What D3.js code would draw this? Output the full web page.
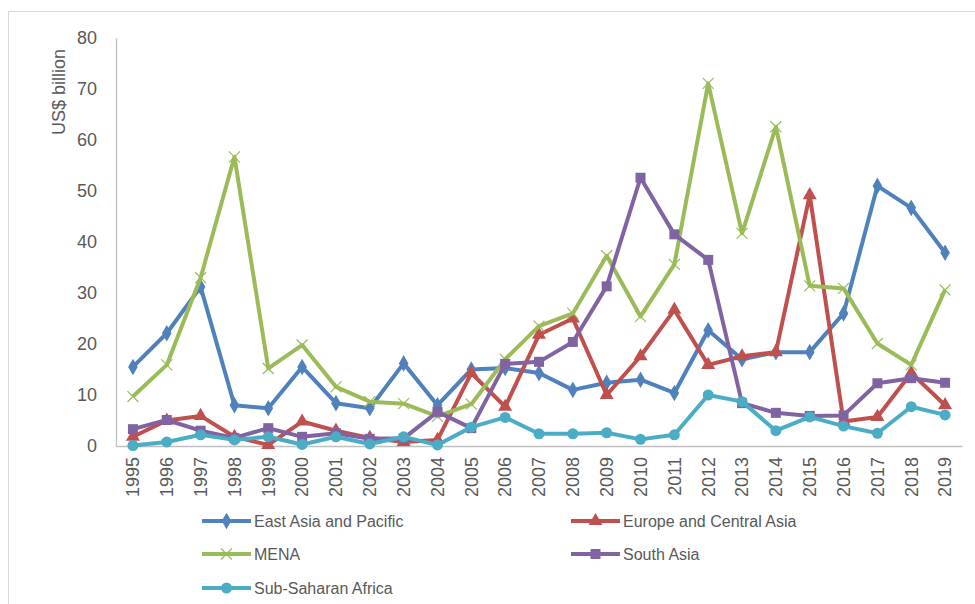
<!DOCTYPE html>
<html>
<head>
<meta charset="UTF-8">
<script src="https://cdnjs.cloudflare.com/ajax/libs/d3/7.8.5/d3.min.js"></script>
<style>
  body { margin: 0; background: #fff; }
  text { font-family: "Liberation Sans", Arial, sans-serif; fill: #595959; }
</style>
</head>
<body>
<div id="chart"></div>
<script>
var years = ["1995","1996","1997","1998","1999","2000","2001","2002","2003","2004","2005","2006",
             "2007","2008","2009","2010","2011","2012","2013","2014","2015","2016","2017","2018","2019"];
var yTicks = [0, 10, 20, 30, 40, 50, 60, 70, 80];

var eastAsia = [15.5, 22.1, 31.2, 8, 7.4, 15.5, 8.4, 7.4, 16.2, 8, 15, 15.3, 14.3, 11, 12.4, 13, 10.4, 22.7, 17, 18.4, 18.4, 26, 51, 46.7, 37.9];
var europe   = [1.8, 5, 5.9, 1.8, 0.2, 4.8, 3, 1.6, 0.8, 1.2, 14.3, 7.7, 21.8, 25, 10, 17.6, 26.7, 15.9, 17.6, 18.4, 49.2, 4.8, 5.7, 14.3, 8];
var mena     = [9.7, 15.9, 33, 56.7, 15.2, 19.8, 11.6, 8.7, 8.3, 5.8, 8.2, 17, 23.5, 26, 37.3, 25.4, 35.6, 71.1, 41.7, 62.6, 31.4, 30.9, 20.1, 15.9, 30.6];
var southAsia= [3.3, 5.1, 3, 1.6, 3.5, 1.8, 2.5, 1.4, 1.5, 6.7, 3.5, 16.1, 16.5, 20.4, 31.3, 52.6, 41.5, 36.5, 8.4, 6.5, 5.9, 6, 12.3, 13.3, 12.4];
var ssa      = [0.1, 0.8, 2.2, 1.2, 1.8, 0.3, 1.8, 0.4, 1.8, 0.2, 3.7, 5.6, 2.4, 2.4, 2.6, 1.3, 2.2, 10, 8.7, 3, 5.7, 3.9, 2.5, 7.7, 6.1];

var seriesNames = ["East Asia and Pacific", "Europe and Central Asia", "MENA", "South Asia", "Sub-Saharan Africa"];
var seriesValues = [eastAsia, europe, mena, southAsia, ssa];
var colors = ["#4f81bd", "#c0504d", "#9bbb59", "#8064a2", "#4bacc6"];
var markers = ["diamond", "triangle", "x", "square", "circle"];

var width = 975, height = 604;

var svg = d3.select("#chart").append("svg")
  .attr("width", width)
  .attr("height", height);

svg.append("rect")
  .attr("x", 8.5).attr("y", 11.5)
  .attr("width", 980).attr("height", 620)
  .attr("fill", "#fff")
  .attr("stroke", "#d9d9d9");

var x = d3.scaleBand().domain(years).range([116, 962]);
var y = d3.scaleLinear().domain([0, 80]).range([446, 38]);
function px(i) { return x(years[i]) + x.bandwidth() / 2; }

// y axis
var yAxis = svg.append("g")
  .attr("transform", "translate(116,0)")
  .call(d3.axisLeft(y).tickValues(yTicks).tickSize(0).tickPadding(19));
yAxis.select(".domain").attr("stroke", "#bfbfbf").attr("stroke-width", 1.3);
yAxis.selectAll("text").style("font-size", "18px").attr("fill", "#595959");

// x axis
var xAxis = svg.append("g")
  .attr("transform", "translate(0,446)")
  .call(d3.axisBottom(x).tickSize(0));
xAxis.select(".domain").attr("stroke", "#bfbfbf").attr("stroke-width", 1.3);
xAxis.selectAll("text")
  .style("font-size", "18px")
  .attr("fill", "#595959")
  .attr("text-anchor", "end")
  .attr("dy", "0.35em")
  .attr("transform", "translate(0,11) rotate(-90)")
  .attr("x", 0).attr("y", 0);

svg.append("text")
  .attr("transform", "translate(65,92) rotate(-90)")
  .attr("text-anchor", "middle")
  .style("font-size", "18px")
  .text("US$ billion");

function drawMarker(g, type, cx, cy, color) {
  if (type == "diamond") {
    g.append("path").attr("d", d3.symbol().type(d3.symbolDiamond).size(80)())
      .attr("transform", "translate(" + cx + "," + cy + ")").attr("fill", color);
  } else if (type == "triangle") {
    g.append("path").attr("d", d3.symbol().type(d3.symbolTriangle).size(85)())
      .attr("transform", "translate(" + cx + "," + cy + ")").attr("fill", color);
  } else if (type == "square") {
    g.append("path").attr("d", d3.symbol().type(d3.symbolSquare).size(100)())
      .attr("transform", "translate(" + cx + "," + cy + ")").attr("fill", color);
  } else if (type == "circle") {
    g.append("path").attr("d", d3.symbol().type(d3.symbolCircle).size(95)())
      .attr("transform", "translate(" + cx + "," + cy + ")").attr("fill", color);
  } else {
    g.append("path").attr("d", d3.symbol().type(d3.symbolX).size(80)())
      .attr("transform", "translate(" + cx + "," + cy + ")")
      .attr("fill", "none").attr("stroke", color).attr("stroke-width", 1.2);
  }
}

var line = d3.line()
  .x(function(d, i) { return px(i); })
  .y(function(d) { return y(d); });

seriesValues.forEach(function(vals, s) {
  var g = svg.append("g");
  g.append("path")
    .attr("d", line(vals))
    .attr("fill", "none")
    .attr("stroke", colors[s])
    .attr("stroke-width", 4)
    .attr("stroke-linejoin", "round");
  vals.forEach(function(v, i) {
    drawMarker(g, markers[s], px(i), y(v), colors[s]);
  });
});

// legend
var legendPos = [[202, 521], [571, 521], [202, 554], [571, 554], [202, 588]];
seriesNames.forEach(function(name, s) {
  var lx = legendPos[s][0], ly = legendPos[s][1];
  var g = svg.append("g");
  g.append("line")
    .attr("x1", lx).attr("x2", lx + 49)
    .attr("y1", ly).attr("y2", ly)
    .attr("stroke", colors[s]).attr("stroke-width", 4);
  drawMarker(g, markers[s], lx + 24.5, ly, colors[s]);
  g.append("text")
    .attr("x", lx + 52).attr("y", ly)
    .attr("dy", "0.35em")
    .style("font-size", "16px")
    .text(name);
});
</script>
</body>
</html>
